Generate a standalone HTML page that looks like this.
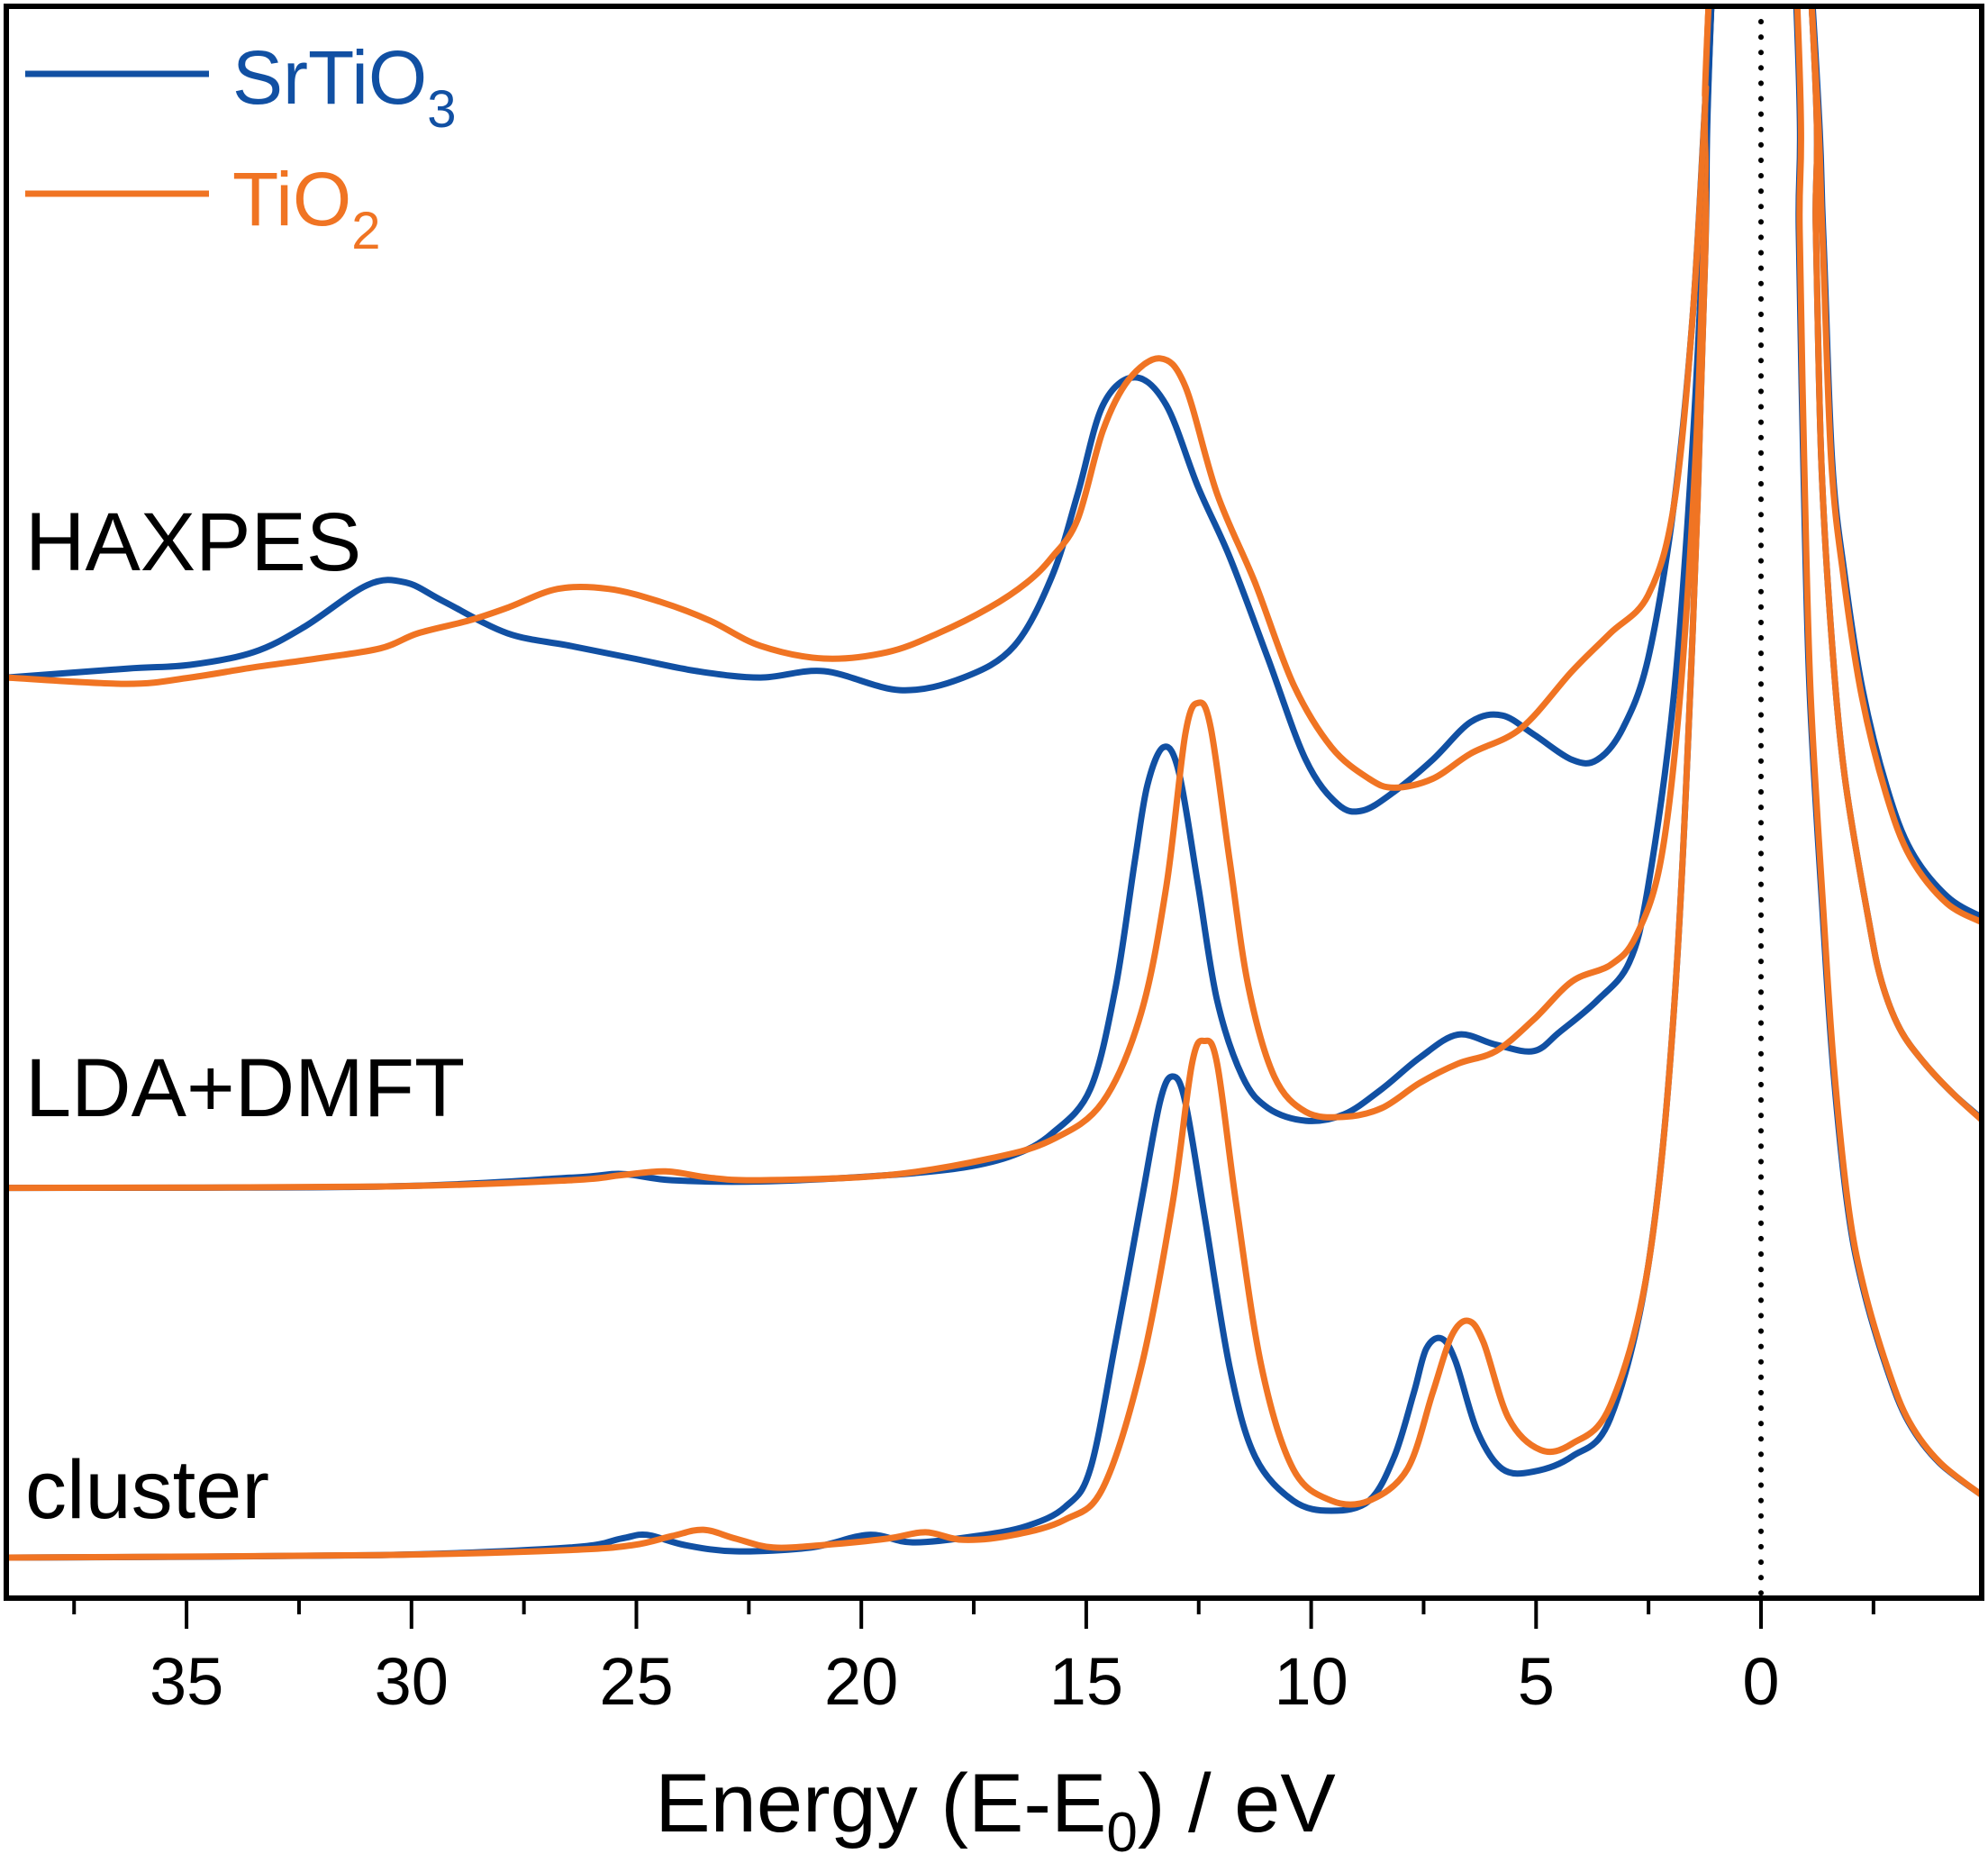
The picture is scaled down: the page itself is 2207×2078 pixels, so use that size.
<!DOCTYPE html>
<html><head><meta charset="utf-8"><style>
html,body{margin:0;padding:0;background:#fff;}
svg{display:block;font-family:"Liberation Sans",Arial,sans-serif;}
</style></head><body>
<svg id="chart" width="2207" height="2078" viewBox="0 0 2207 2078" xmlns="http://www.w3.org/2000/svg">
<defs><clipPath id="plotclip"><rect x="7" y="7" width="2193" height="1767"/></clipPath></defs>
<g id="series" clip-path="url(#plotclip)"></g>
<line id="zero-line" stroke="#000" stroke-width="6" stroke-dasharray="0.1 17" stroke-linecap="round"/>
<rect x="7" y="7" width="2193" height="1767" fill="none" stroke="#000" stroke-width="6"/>
<g id="ticks"></g>
<text x="1105" y="2033" font-size="92" text-anchor="middle">Energy (E-E<tspan font-size="62" dy="22">0</tspan><tspan dy="-22">) / eV</tspan></text>
<g>
<line x1="28" y1="82" x2="232" y2="82" stroke="#1150a3" stroke-width="7"/>
<text x="258" y="115" font-size="84" fill="#1150a3">SrTiO<tspan font-size="58" dy="26">3</tspan></text>
<line x1="28" y1="215" x2="232" y2="215" stroke="#f07423" stroke-width="7"/>
<text x="258" y="250" font-size="84" fill="#f07423">TiO<tspan font-size="58" dy="26">2</tspan></text>
</g>
<text x="28" y="633" font-size="92">HAXPES</text>
<text x="28" y="1239" font-size="92">LDA+DMFT</text>
<text x="28" y="1685" font-size="92">cluster</text>
</svg>
<script>
const majorTicks = [35,30,25,20,15,10,5,0];
const minorTicks = [37.5,32.5,27.5,22.5,17.5,12.5,7.5,2.5,-2.5];
const haxSrE = [39.0,36.33,34.92,33.51,32.38,30.98,30.13,29.28,27.87,26.47,25.06,23.65,22.24,20.83,19.14,17.73,16.60,15.76,15.19,14.63,13.92,13.22,12.51,11.81,10.96,10.12,9.41,8.85,8.15,7.30,6.45,5.75,5.05,4.20,3.64,3.07,2.51,1.94,1.52,1.24,1.10,0.2,-1.14,-1.38,-1.58,-1.86,-2.26,-2.80,-3.34,-4.14,-4.96];
const haxSrV = [72.7,73.4,73.7,74.7,76.7,80.0,80.2,78.7,76.2,75.2,74.2,73.2,72.7,73.2,71.7,72.7,75.2,80.7,87.2,94.2,96.4,94.2,87.7,82.2,74.2,66.2,62.7,62.2,63.7,66.2,69.2,69.7,68.2,66.2,66.2,68.7,74.2,86.2,101.2,118.2,126.2,200,126.2,108.1,89.9,80.8,71.7,64.0,59.0,55.4,53.7];
const haxTiE = [39.0,36.33,34.92,33.51,32.10,30.69,29.85,28.72,27.87,26.75,25.62,24.49,23.37,22.24,20.83,19.42,18.29,17.16,16.32,15.76,15.19,14.63,14.06,13.36,12.80,12.09,11.25,10.40,9.55,8.71,8.15,7.30,6.45,5.33,4.20,3.35,2.51,1.94,1.52,1.24,1.16,0.2,-1.12,-1.36,-1.56,-1.84,-2.24,-2.78,-3.32,-4.12,-4.96];
const haxTiV = [72.7,72.2,72.7,73.5,74.2,75.0,76.2,77.2,78.2,79.7,79.7,78.7,77.2,75.2,74.2,74.7,76.2,78.2,80.2,82.2,85.2,92.2,96.2,97.9,95.7,87.2,80.2,72.2,67.2,64.7,64.0,64.7,66.7,68.7,73.2,76.2,79.2,86.2,101.2,118.2,126.2,200,126.2,108.1,89.9,80.5,71.2,63.5,58.5,54.9,53.3];
const ldaSrE = [39.0,30.69,26.47,25.34,24.21,22.24,19.42,17.73,16.60,15.76,14.91,14.35,13.92,13.64,13.28,12.94,12.51,12.09,11.53,10.96,10.12,9.27,8.43,7.58,6.74,5.89,5.05,4.48,3.64,2.93,2.51,1.94,1.52,1.24,1.10,0.2,-1.12,-1.22,-1.34,-1.56,-1.86,-2.40,-2.68,-3.08,-3.62,-4.28,-4.96];
const ldaSrV = [32.4,32.5,33.2,33.5,33.0,32.9,33.4,34.0,35.0,36.7,40.2,48.2,58.2,64.2,67.2,65.2,56.2,47.2,41.2,38.7,37.7,38.2,40.2,42.7,44.5,43.7,43.2,44.7,47.2,50.2,56.2,71.2,91.2,111.2,126.2,200,126.2,108.1,89.9,76.3,64.9,53.4,48.7,45.0,42.3,39.8,37.7];
const ldaTiE = [39.0,30.69,26.47,25.34,24.35,23.37,22.24,19.42,17.16,15.76,14.63,13.78,13.22,12.80,12.51,12.23,11.81,11.39,10.82,10.12,9.27,8.43,7.58,6.74,5.89,5.05,4.20,3.35,2.79,2.23,1.80,1.44,1.24,1.16,0.2,-1.12,-1.22,-1.34,-1.56,-1.86,-2.40,-2.68,-3.08,-3.62,-4.28,-4.96];
const ldaTiV = [32.4,32.5,33.0,33.4,33.7,33.2,33.0,33.4,34.7,36.2,39.2,46.2,56.2,68.2,70.7,68.7,58.2,48.2,41.2,38.4,38.0,38.7,40.7,42.2,43.2,45.7,48.7,50.0,52.2,58.2,71.2,91.2,111.2,126.2,200,126.2,108.1,89.9,76.3,64.9,53.4,48.7,45.0,42.3,39.8,37.6];
const cluSrE = [39.0,30.69,26.47,25.34,24.77,23.93,22.80,21.11,19.84,18.86,17.45,16.32,15.47,14.91,14.35,13.78,13.36,13.08,12.80,12.37,11.81,11.25,10.40,9.55,8.71,8.15,7.72,7.44,7.10,6.79,6.31,5.75,5.05,4.20,3.35,2.51,1.94,1.52,1.24,1.10,0.2,-0.78,-0.84,-0.94,-1.08,-1.38,-1.60,-1.92,-2.26,-2.80,-3.28,-3.96,-4.96];
const cluSrV = [3.2,3.4,4.0,4.7,5.0,4.2,3.7,4.0,5.0,4.4,4.9,5.7,7.2,10.2,20.2,31.2,39.2,41.2,39.2,30.2,18.2,11.2,7.7,6.9,7.7,11.2,16.2,19.7,20.5,18.7,13.2,10.2,10.0,11.2,14.2,26.2,46.2,76.2,106.2,126.2,200,126.2,108.1,89.9,71.7,53.5,42.0,31.0,24.6,18.1,13.9,10.7,8.0];
const cluTiE = [39.0,30.69,26.47,25.06,24.21,23.51,22.80,21.96,20.83,19.42,18.57,17.73,16.60,15.47,14.63,13.78,13.08,12.65,12.37,12.09,11.67,11.10,10.40,9.55,8.71,7.86,7.30,6.88,6.51,6.17,5.61,4.90,4.20,3.35,2.51,1.94,1.52,1.24,1.16,0.2,-0.80,-0.86,-0.96,-1.10,-1.40,-1.62,-1.94,-2.28,-2.82,-3.30,-3.98,-4.96];
const cluTiV = [3.2,3.4,3.8,4.2,4.9,5.4,4.7,4.0,4.2,4.7,5.2,4.6,5.0,6.2,8.7,18.2,31.2,42.2,44.0,42.2,31.2,18.2,10.2,7.7,7.7,10.2,16.2,20.7,21.9,20.2,14.2,11.7,12.2,15.2,26.2,46.2,76.2,106.2,126.2,200,126.2,108.1,89.9,71.7,53.5,42.0,31.0,24.6,18.1,13.9,10.7,8.0];

const NS='http://www.w3.org/2000/svg';
const X0=1955, PXPERE=49.94, YB=1774, PXPERV=14.057;
function xs(e){return X0-e*PXPERE;}
function ys(v){return YB-v*PXPERV;}
function pathFrom(E,V){
  const p=E.map((e,i)=>[xs(e),ys(V[i])]);
  let d='M'+p[0][0].toFixed(1)+','+p[0][1].toFixed(1);
  for(let i=0;i<p.length-1;i++){
    const p0=p[Math.max(0,i-1)],p1=p[i],p2=p[i+1],p3=p[Math.min(p.length-1,i+2)];
    const c1=[p1[0]+(p2[0]-p0[0])/6,p1[1]+(p2[1]-p0[1])/6];
    const c2=[p2[0]-(p3[0]-p1[0])/6,p2[1]-(p3[1]-p1[1])/6];
    d+='C'+c1[0].toFixed(1)+','+c1[1].toFixed(1)+' '+c2[0].toFixed(1)+','+c2[1].toFixed(1)+' '+p2[0].toFixed(1)+','+p2[1].toFixed(1);
  }
  return d;
}
const g=document.getElementById('series');
const BLUE='#1150a3', ORANGE='#f07423';
function addSeries(E,V,color,name){
  const el=document.createElementNS(NS,'path');
  el.setAttribute('d',pathFrom(E,V));
  el.setAttribute('fill','none');
  el.setAttribute('stroke',color);
  el.setAttribute('stroke-width','7');
  el.setAttribute('stroke-linejoin','round');
  
  
  g.appendChild(el);
}
addSeries(cluSrE,cluSrV,BLUE,'cluster-srtio3-line');
addSeries(cluTiE,cluTiV,ORANGE,'cluster-tio2-line');
addSeries(ldaSrE,ldaSrV,BLUE,'lda-dmft-srtio3-line');
addSeries(ldaTiE,ldaTiV,ORANGE,'lda-dmft-tio2-line');
addSeries(haxSrE,haxSrV,BLUE,'haxpes-srtio3-line');
addSeries(haxTiE,haxTiV,ORANGE,'haxpes-tio2-line');

const zl=document.getElementById('zero-line');
zl.setAttribute('x1',xs(0));zl.setAttribute('x2',xs(0));
zl.setAttribute('y1',24);zl.setAttribute('y2',YB);

const tg=document.getElementById('ticks');
majorTicks.forEach(t=>{
  const l=document.createElementNS(NS,'line');
  l.setAttribute('x1',xs(t));l.setAttribute('x2',xs(t));
  l.setAttribute('y1',YB);l.setAttribute('y2',YB+34);
  l.setAttribute('stroke','#000');l.setAttribute('stroke-width','4');
  
  
  tg.appendChild(l);
  const tx=document.createElementNS(NS,'text');
  tx.setAttribute('x',xs(t));tx.setAttribute('y',1892);
  tx.setAttribute('font-size','74');tx.setAttribute('text-anchor','middle');
  tx.textContent=String(t);
  
  
  tg.appendChild(tx);
});
minorTicks.forEach(t=>{
  const l=document.createElementNS(NS,'line');
  l.setAttribute('x1',xs(t));l.setAttribute('x2',xs(t));
  l.setAttribute('y1',YB);l.setAttribute('y2',YB+18);
  l.setAttribute('stroke','#000');l.setAttribute('stroke-width','4');
  
  
  tg.appendChild(l);
});
</script>
</body></html>
